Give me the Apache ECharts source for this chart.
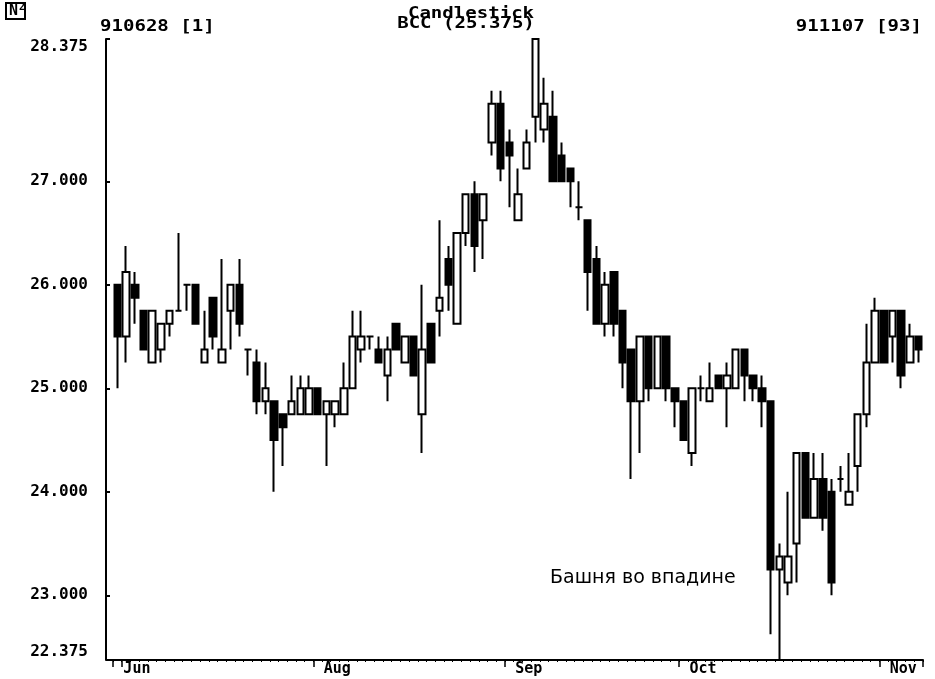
<!DOCTYPE html>
<html><head><meta charset="utf-8">
<script src="https://cdn.jsdelivr.net/npm/echarts/dist/echarts.min.js"></script>
<style>html,body{margin:0;padding:0;background:#fff}#c{width:935px;height:679px}</style>
</head><body><div id="c"></div>
<script>
// candle number 1..93 (910628 .. 911107)
const opens  = [26.0,25.5,26.0,25.75,25.25,25.375,25.625,25.75,26.0,26.0,
                25.25,25.875,25.25,25.75,26.0,25.375,25.25,24.875,24.875,24.75,
                24.75,24.75,24.75,25.0,24.75,24.75,24.75,25.0,25.375,25.5,
                25.375,25.125,25.625,25.25,25.5,24.75,25.625,25.75,26.25,25.625,
                26.5,26.875,26.625,27.375,27.75,27.375,26.625,27.125,27.625,27.5,
                27.625,27.25,27.125,26.75,26.625,26.25,25.625,26.125,25.75,25.375,
                24.875,25.5,25.0,25.5,25.0,24.875,24.375,25.0,24.875,25.125,
                25.0,25.0,25.375,25.125,25.0,24.875,23.25,23.125,23.5,24.375,
                23.75,24.125,24.0,24.125,23.875,24.25,24.75,25.25,25.75,25.5,
                25.75,25.25,25.5];
const closes = [25.5,26.125,25.875,25.375,25.75,25.625,25.75,25.75,26.0,25.625,
                25.375,25.5,25.375,26.0,25.625,25.375,24.875,25.0,24.5,24.625,
                24.875,25.0,25.0,24.75,24.875,24.875,25.0,25.5,25.5,25.5,
                25.25,25.375,25.375,25.5,25.125,25.375,25.25,25.875,26.0,26.5,
                26.875,26.375,26.875,27.75,27.125,27.25,26.875,27.375,28.375,27.75,
                27.0,27.0,27.0,26.75,26.125,25.625,26.0,25.625,25.25,24.875,
                25.5,25.0,25.5,25.0,24.875,24.5,25.0,25.0,25.0,25.0,
                25.125,25.375,25.125,25.0,24.875,23.25,23.375,23.375,24.375,23.75,
                24.125,23.75,23.125,24.125,24.0,24.75,25.25,25.75,25.25,25.75,
                25.125,25.5,25.375];
const lows   = [25.0,25.25,25.625,25.375,25.25,25.25,25.5,25.75,25.75,25.625,
                25.25,25.375,25.25,25.375,25.5,25.125,24.75,24.75,24.0,24.25,
                24.75,24.75,24.75,24.75,24.25,24.625,24.75,25.0,25.25,25.375,
                25.25,24.875,25.375,25.25,25.125,24.375,25.25,25.5,25.75,25.625,
                26.375,26.125,26.25,27.25,27.0,26.75,26.625,27.125,27.375,27.375,
                27.0,27.0,26.75,26.625,25.75,25.625,25.5,25.5,25.0,24.125,
                24.375,24.875,25.0,24.875,24.625,24.5,24.25,24.875,24.875,25.0,
                24.625,25.0,24.875,24.875,24.625,22.625,22.375,23.0,23.125,23.75,
                23.75,23.625,23.0,24.0,23.875,24.0,24.625,25.25,25.25,25.25,
                25.0,25.25,25.25];
const highs  = [26.0,26.375,26.125,25.75,25.75,25.625,25.75,26.5,26.0,26.0,
                25.75,25.875,26.25,26.0,26.25,25.375,25.375,25.25,24.875,24.75,
                25.125,25.125,25.125,25.0,24.875,24.875,25.25,25.75,25.75,25.5,
                25.5,25.5,25.625,25.5,25.5,26.0,25.625,26.625,26.375,26.5,
                26.875,27.0,26.875,27.875,27.875,27.5,27.125,27.5,28.375,28.0,
                27.875,27.375,27.125,27.0,26.625,26.375,26.125,26.125,25.75,25.375,
                25.5,25.5,25.5,25.5,25.0,24.875,25.0,25.125,25.25,25.125,
                25.25,25.375,25.375,25.125,25.125,24.875,23.5,24.0,24.375,24.375,
                24.375,24.375,24.125,24.25,24.375,24.75,25.625,25.875,25.75,25.75,
                25.75,25.625,25.5];
const monthTickIdx = [0, 1, 23, 45, 65, 88];
const monthLabels = {0: 'Jun', 23: 'Aug', 45: 'Sep', 65: 'Oct', 88: 'Nov'};
const yTickValues = [22.375, 23, 24, 25, 26, 27, 28.375];
const headerLeft = '910628 [1]';
const headerRight = '911107 [93]';
const titleText = 'Candlestick';
const subTitleText = 'BCC (25.375)';
const noteText = 'Башня во впадине';

const categories = opens.map((_, i) => String(i + 1));
const ohlc = opens.map((o, i) => [o, closes[i], lows[i], highs[i]]);

const mono = 'DejaVu Sans Mono';
const hdrFont = 'bold 15px "' + mono + '"';
const chart = echarts.init(document.getElementById('c'), null, {renderer: 'canvas'});
chart.setOption({
  animation: false,
  backgroundColor: '#fff',
  grid: {left: 113, right: 12, top: 39, bottom: 19},
  xAxis: [{
    type: 'category', data: categories, boundaryGap: true,
    axisLine: {lineStyle: {color: '#000', width: 2}},
    axisTick: {show: true, length: 7, lineStyle: {color: '#000', width: 1.5},
      interval: (idx) => monthTickIdx.indexOf(idx) >= 0},
    axisLabel: {
      interval: (idx) => monthLabels[idx] !== undefined,
      formatter: (v, idx) => monthLabels[idx] || '',
      align: 'left', margin: 2, padding: [0, 0, 0, 6],
      fontFamily: mono, fontWeight: 'bold', fontSize: 15, color: '#000'
    },
    splitLine: {show: false}
  }, {
    type: 'category', data: categories, boundaryGap: true, position: 'bottom',
    axisLine: {show: false},
    axisTick: {show: true, length: 2, interval: 0, lineStyle: {color: '#000', width: 1}},
    axisLabel: {show: false}, splitLine: {show: false}
  }],
  yAxis: {
    type: 'value', min: 22.375, max: 28.375, offset: 7, scale: true,
    axisLine: {show: true, lineStyle: {color: '#000', width: 2}},
    axisTick: {show: true, inside: true, length: 4, customValues: yTickValues,
      lineStyle: {color: '#000', width: 2}},
    axisLabel: {customValues: yTickValues, formatter: (v) => v.toFixed(3),
      margin: 18, fontFamily: mono, fontWeight: 'bold', fontSize: 16, color: '#000',
      verticalAlignMaxLabel: 'top', verticalAlignMinLabel: 'bottom'},
    splitLine: {show: false}
  },
  series: [{
    type: 'candlestick', data: ohlc, xAxisIndex: 0, barWidth: 7,
    itemStyle: {color: '#fff', color0: '#000', borderColor: '#000', borderColor0: '#000', borderWidth: 2}
  }],
  graphic: [
    {type: 'line', shape: {x1: 106, y1: 660, x2: 114, y2: 660}, style: {stroke: '#000', lineWidth: 2}},
    {type: 'rect', shape: {x: 6, y: 3, width: 19, height: 16},
      style: {fill: '#fff', stroke: '#000', lineWidth: 2}},
    {type: 'text', x: 9, y: 4, style: {text: 'N', font: 'bold 15px "' + mono + '"', fill: '#000'}},
    {type: 'text', x: 19, y: 2, style: {text: '2', font: 'bold 10px "' + mono + '"', fill: '#000'}},
    {type: 'text', x: 100, y: 20, scaleX: 1.27,
      style: {text: headerLeft, font: hdrFont, fill: '#000', textAlign: 'left', textVerticalAlign: 'top'}},
    {type: 'text', x: 922, y: 20, scaleX: 1.27,
      style: {text: headerRight, font: hdrFont, fill: '#000', textAlign: 'right', textVerticalAlign: 'top'}},
    {type: 'text', x: 471, y: 7, scaleX: 1.27,
      style: {text: titleText, font: hdrFont, fill: '#000', textAlign: 'center', textVerticalAlign: 'top'}},
    {type: 'text', x: 466, y: 17, scaleX: 1.27,
      style: {text: subTitleText, font: hdrFont, fill: '#000', textAlign: 'center', textVerticalAlign: 'top'}},
    {type: 'text', x: 550, y: 569, style: {text: noteText, font: '19px "DejaVu Sans"', fill: '#000'}}
  ]
});
</script></body></html>
